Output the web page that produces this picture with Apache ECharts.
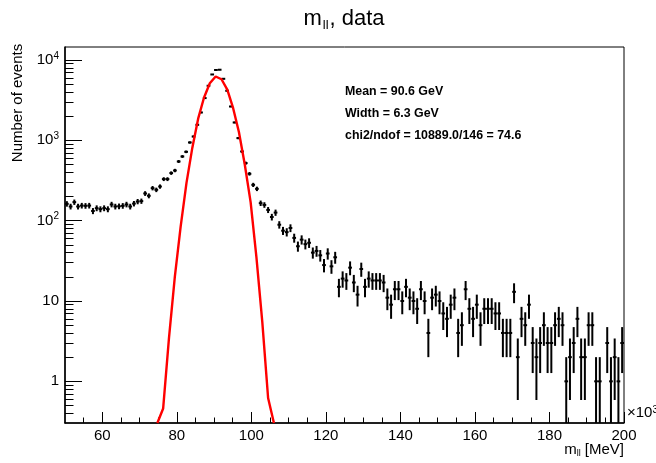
<!DOCTYPE html>
<html><head><meta charset="utf-8">
<script src="https://cdn.jsdelivr.net/npm/echarts@6/dist/echarts.min.js"></script>
<style>html,body{margin:0;padding:0;background:#fff}#c{width:656px;height:463px}</style>
</head><body><div id="c"></div>
<script>
// ---- data ----
const xMin = 50, xMax = 200, binWidth = 1;
const counts = [
  162, 150, 170, 150, 154, 153, 154, 132, 143, 139, 143, 139, 159, 150, 151, 153, 159, 150, 163, 173, 175, 218, 204,
  254, 242, 266, 329, 329, 391, 421, 545, 629, 719, 940, 1115, 1560, 2220, 3355, 4775, 6600, 7500, 7560, 5830, 4135,
  2635, 1667, 1065, 726, 520, 383, 279, 249, 165, 157, 136, 111, 126, 89, 75, 72, 81, 61, 48,
  58, 51, 53, 40, 42, 37, 28, 39, 27, 35, 15, 19, 18, 26, 17, 12, 25, 15, 19, 18, 18, 18, 17, 11, 9, 14, 14, 10,
  15, 11, 10, 8, 14, 10, 4, 11, 12, 10, 7, 6, 9, 11, 4, 5, 14, 8, 6, 9, 5, 8, 8, 8, 7, 7, 4, 4, 4, 13,
  2, 6, 5, 9, 3, 2, 3, 5, 3, 3, 5, 6, 5, 1, 2, 3, 6, 2, 2, 5, 5, 1, 1, 0, 3, 1, 2, 1, 3
];
const fitX = [74.78, 76.34, 77.91, 79.47, 81.04, 82.6, 84.17, 85.73, 87.29, 88.86, 90.42,
              91.99, 93.55, 95.12, 96.68, 98.24, 99.81, 101.37, 102.94, 104.5, 106.06];
const fitY = [0.303, 0.46, 3.5, 20, 85, 295, 810, 1860, 3390, 5130, 6230,
              5750, 4270, 2510, 1260, 500, 170, 35, 5.5, 0.62, 0.303];
const xLabelValues = [60, 80, 100, 120, 140, 160, 180, 200];
const xMinorTicks = [55, 65, 70, 75, 85, 90, 95, 105, 110, 115, 125, 130, 135, 145, 150, 155, 165, 170, 175, 185, 190, 195];
const yLabelValues = [1, 10, 100, 1000, 10000];
const yMinorTicks = [0.4, 0.5, 0.6, 0.7, 0.8, 0.9, 2, 3, 4, 5, 6, 7, 8, 9, 20, 30, 40, 50, 60, 70, 80, 90,
  200, 300, 400, 500, 600, 700, 800, 900, 2000, 3000, 4000, 5000, 6000, 7000, 8000, 9000];
const statLines = ['Mean = 90.6 GeV', 'Width = 6.3 GeV', 'chi2/ndof = 10889.0/146 = 74.6'];
const yMin = 0.303, yMax = 14500;

const FONT = '"Liberation Sans", Arial, Helvetica, sans-serif';

const points = [];
counts.forEach((n, i) => { if (n > 0) points.push([xMin + (i + 0.5) * binWidth, n]); });

const chart = echarts.init(document.getElementById('c'), null, {renderer: 'canvas'});
const labelStyle = {color: '#000', fontFamily: FONT, fontSize: 15};
chart.setOption({
  animation: false,
  backgroundColor: '#fff',
  grid: {left: 65, right: 32, top: 47, bottom: 40, show: true, borderColor: '#000', borderWidth: 1, backgroundColor: 'transparent'},
  xAxis: [
    {type: 'value', min: xMin, max: xMax, position: 'bottom',
     axisLine: {show: true, lineStyle: {color: '#000', width: 1.5}},
     axisTick: {show: true, inside: true, length: 11, customValues: xLabelValues, lineStyle: {color: '#000', width: 1}},
     axisLabel: {show: true, customValues: xLabelValues, margin: 5, ...labelStyle},
     splitLine: {show: false}},
    {type: 'value', min: xMin, max: xMax, position: 'bottom', offset: 0,
     axisLine: {show: false},
     axisTick: {show: true, inside: true, length: 5.5, customValues: xMinorTicks, lineStyle: {color: '#000', width: 1}},
     axisLabel: {show: false}, splitLine: {show: false}}
  ],
  yAxis: [
    {type: 'log', logBase: 10, min: yMin, max: yMax, position: 'left',
     axisLine: {show: true, lineStyle: {color: '#000', width: 1.5}},
     axisTick: {show: true, inside: true, length: 17, customValues: yLabelValues, lineStyle: {color: '#000', width: 1}},
     axisLabel: {show: true, customValues: yLabelValues, margin: 6, ...labelStyle,
       formatter: v => {
         const e = Math.round(Math.log10(v));
         if (e <= 1) return String(Math.round(v));
         return '{b|10}{s|' + e + '}';
       },
       rich: {b: {fontFamily: FONT, fontSize: 15, color: '#000'},
              s: {fontFamily: FONT, fontSize: 10, color: '#000', verticalAlign: 'top', padding: [0, 0, 8, 0]}}},
     splitLine: {show: false}},
    {type: 'log', logBase: 10, min: yMin, max: yMax, position: 'left', offset: 0,
     axisLine: {show: false},
     axisTick: {show: true, inside: true, length: 8.5, customValues: yMinorTicks, lineStyle: {color: '#000', width: 1}},
     axisLabel: {show: false}, splitLine: {show: false}}
  ],
  series: [
    {type: 'custom', xAxisIndex: 0, yAxisIndex: 0, clip: true, z: 2,
     data: points,
     renderItem: (params, api) => {
       const x = api.value(0), n = api.value(1);
       const e = Math.sqrt(n);
       const c = api.coord([x, n]);
       const top = api.coord([x, n + e]);
       const bot = api.coord([x, Math.max(n - e, yMin)]);
       const l = api.coord([x - binWidth / 2, n]);
       const r = api.coord([x + binWidth / 2, n]);
       return {type: 'group', children: [
         {type: 'line', shape: {x1: c[0], y1: top[1], x2: c[0], y2: bot[1]}, style: {stroke: '#000', lineWidth: 2}},
         {type: 'line', shape: {x1: l[0], y1: c[1], x2: r[0], y2: c[1]}, style: {stroke: '#000', lineWidth: 2}}
       ]};
     }},
    {type: 'line', xAxisIndex: 0, yAxisIndex: 0, z: 5, clip: true,
     data: fitX.map((x, i) => [x, fitY[i]]),
     showSymbol: false, symbol: 'none', smooth: false,
     lineStyle: {color: '#ff0000', width: 2.4}}
  ],
  graphic: [
    {type: 'text', x: 344, y: 8, style: {
      text: '{m|m}{s|ll}{m|, data}', textAlign: 'center',
      rich: {m: {fontFamily: FONT, fontSize: 22, lineHeight: 24, color: '#000', verticalAlign: 'top'},
             s: {fontFamily: FONT, fontSize: 13, lineHeight: 12, color: '#000', verticalAlign: 'bottom', padding: [0, 1, 0, 1]}}}},
    {type: 'text', x: 18, y: 103, rotation: Math.PI / 2, style: {
      text: 'Number of events', fontFamily: FONT, fontSize: 15, fill: '#000', textAlign: 'center', textVerticalAlign: 'middle'}},
    {type: 'text', x: 624, y: 442, style: {
      text: '{m|m}{s|ll}{m| [MeV]}', textAlign: 'right',
      rich: {m: {fontFamily: FONT, fontSize: 15, lineHeight: 16, color: '#000', verticalAlign: 'top'},
             s: {fontFamily: FONT, fontSize: 9, lineHeight: 8, color: '#000', verticalAlign: 'bottom'}}}},
    {type: 'text', x: 627, y: 405, style: {
      text: '{m|×10}{s|3}', textAlign: 'left',
      rich: {m: {fontFamily: FONT, fontSize: 15, color: '#000'},
             s: {fontFamily: FONT, fontSize: 10, color: '#000', verticalAlign: 'top'}}}},
    ...statLines.map((t, i) => ({type: 'text', x: 345, y: 92 + i * 22, style: {
      text: t, fontFamily: FONT, fontSize: 12.4, fontWeight: 'bold', fill: '#000', textVerticalAlign: 'middle'}}))
  ]
});
</script></body></html>
